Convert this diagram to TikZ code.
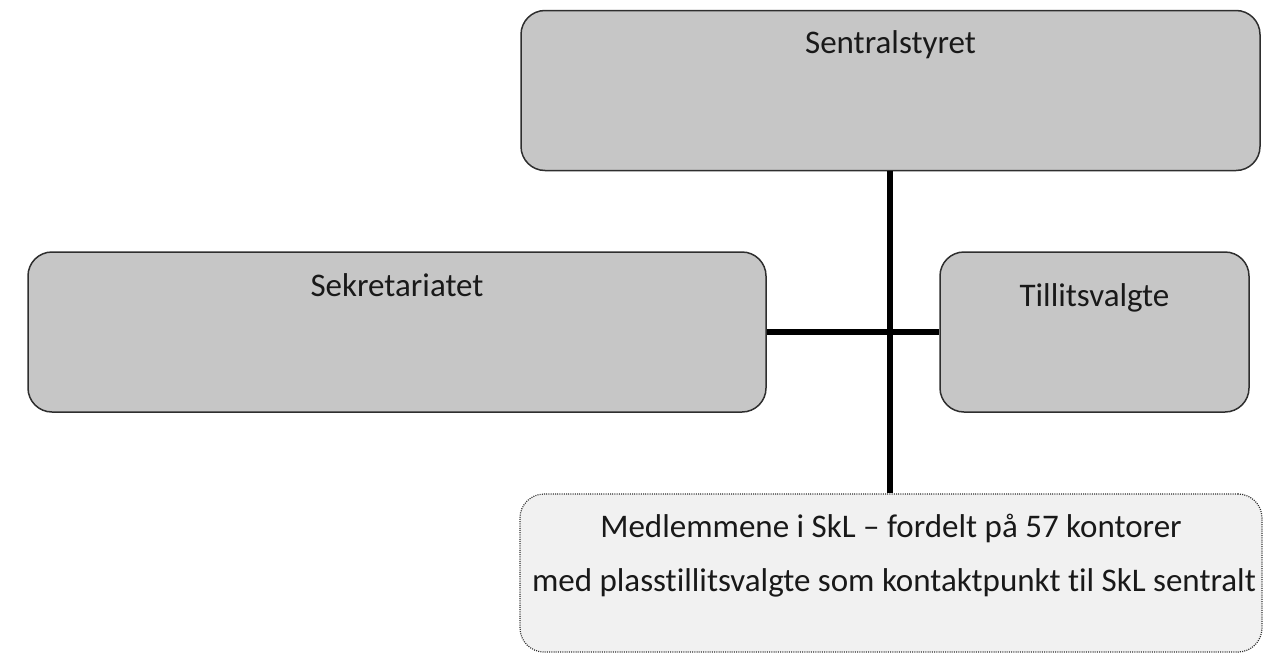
\documentclass[tikz,border=0pt]{standalone}
\usepackage{fontspec}
\setmainfont{Carlito}[Ligatures={NoCommon}]
\usetikzlibrary{positioning}
\definecolor{boxgray}{HTML}{C6C6C6}
\definecolor{memberfill}{HTML}{F1F1F1}
\definecolor{edgegray}{HTML}{2E2E2E}

\begin{document}
\begin{tikzpicture}[x=1pt, y=-1pt,
    org box/.style={draw=edgegray, line width=1.5pt, fill=boxgray, rounded corners=24pt, minimum height=160pt, inner sep=0pt},
    member box/.style={draw=edgegray, line width=1.2pt, dash pattern=on 1pt off 1.2pt, fill=memberfill, rounded corners=24pt, minimum width=742pt, minimum height=158pt, inner sep=0pt},
    box label/.style={font=\fontsize{33}{40}\selectfont, text=black!90, inner sep=0pt},
    link/.style={line width=6pt, black}
]
    \useasboundingbox (0,0) rectangle (1271,653);

    % Boxes
    \node[org box, minimum width=739pt] (styret) at (890.5,90.5) {};
    \node[org box, minimum width=738pt] (sekr) at (397,332) {};
    \node[org box, minimum width=309pt] (tillit) at (1094.5,332) {};
    \node[member box] (members) at (891,573) {};

    % Labels
    \node[box label] (styret_txt) at (890.5,45) {Sentralstyret};
    \node[box label] (sekr_txt) at (397,285) {Sekretariatet};
    \node[box label] (tillit_txt) at (1094.5,298) {Tillitsvalgte};
    \node[box label] (members_txt1) at (891,528) {Medlemmene i SkL -- fordelt på 57 kontorer};
    \node[box label] (members_txt2) at (894,583) {med plasstillitsvalgte som kontaktpunkt til SkL sentralt};

    % Connectors
    \draw[link] (sekr.east) -- (tillit.west);
    \draw[link] (styret.south -| 890,0) -- (members.north -| 890,0);
\end{tikzpicture}
\end{document}
